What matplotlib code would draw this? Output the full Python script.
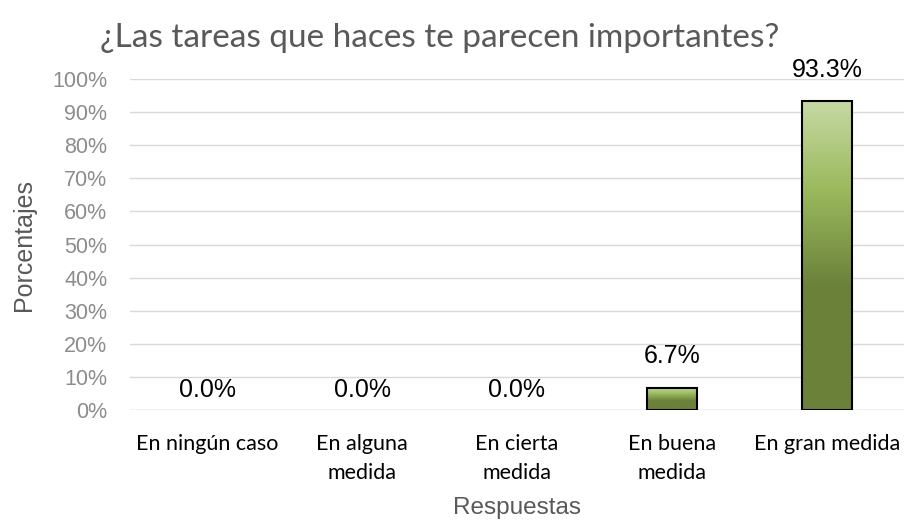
import numpy as np
import matplotlib.pyplot as plt
from matplotlib.colors import LinearSegmentedColormap

categorias = ['En ningún caso', 'En alguna\nmedida', 'En cierta\nmedida', 'En buena\nmedida', 'En gran medida']
porcentajes = [0.0, 0.0, 0.0, 6.7, 93.3]
yticks = list(range(0, 101, 10))

fig = plt.figure(figsize=(9.07, 5.23), dpi=100)
ax = fig.add_axes([0.1428, 0.216, 0.8544, 0.633])

x = np.arange(len(categorias))
ancho = 0.32
barras = ax.bar(x, porcentajes, width=ancho, color='none', edgecolor='black', linewidth=1.5, zorder=3)

# degradado verde como en el original
cmap = LinearSegmentedColormap.from_list('verde', [(0, '#6b813a'), (0.4, '#6b813a'), (0.72, '#9cba5e'), (1, '#c6d9a4')])
grad = np.linspace(0, 1, 256).reshape(-1, 1)
for b in barras:
    h = b.get_height()
    if h <= 0:
        b.set_linewidth(0)
        continue
    im = ax.imshow(grad, cmap=cmap, origin='lower', aspect='auto',
                   extent=[b.get_x(), b.get_x() + b.get_width(), 0, h], zorder=2)
    im.set_clip_path(b)

for xi, v in zip(x, porcentajes):
    off = 6 if v == 0 else 14
    ax.annotate(f'{v:.1f}%', (xi, v), xytext=(0, off), textcoords='offset points',
                ha='center', va='bottom', fontsize=18, family='Liberation Sans',
                color='black', zorder=4)

ax.set_xlim(-0.5, len(categorias) - 0.5)
ax.set_ylim(0, 100)
ax.set_yticks(yticks)
ax.set_yticklabels([f'{t}%' for t in yticks], family='Liberation Sans', fontsize=15.5, color='#8c8c8c')
ax.set_xticks(x)
ax.set_xticklabels(categorias, family='Lato', fontsize=15.5, color='black', linespacing=1.6)
ax.tick_params(axis='y', length=0, pad=16)
ax.tick_params(axis='x', length=0, pad=17)
ax.grid(axis='y', color='#d9d9d9', linewidth=1, zorder=0)
for s in ax.spines.values():
    s.set_visible(False)
ax.axhline(0, color='#d9d9d9', linewidth=1, zorder=1)

ax.set_ylabel('Porcentajes', family='Liberation Sans', fontsize=18, color='#595959', labelpad=12)
ax.set_xlabel('Respuestas', family='Liberation Sans', fontsize=17.5, color='#595959', labelpad=10)
fig.text(0.485, 0.927, '¿Las tareas que haces te parecen importantes?', ha='center', va='center',
         family='Lato', fontsize=24, color='#595959')

fig.savefig('out.png', dpi=100)
